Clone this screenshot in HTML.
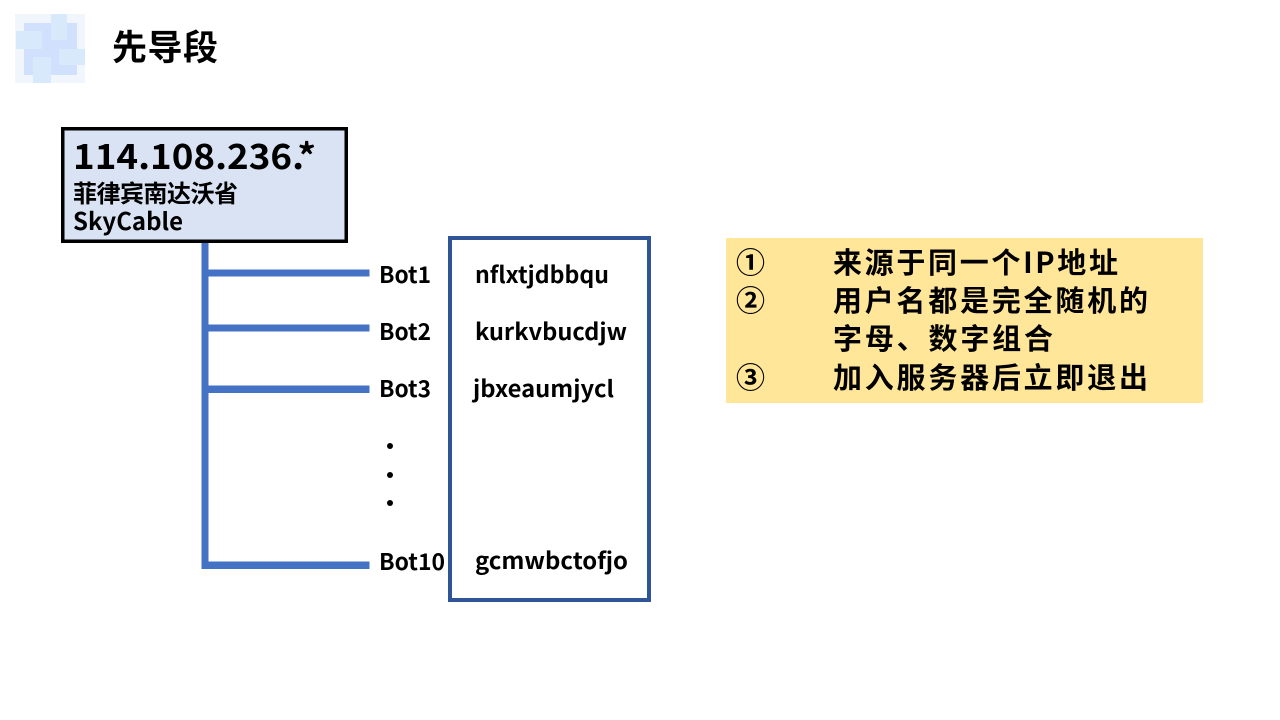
<!DOCTYPE html>
<html>
<head>
<meta charset="utf-8">
<style>
  html,body{margin:0;padding:0;background:#fff;}
  body{width:1280px;height:720px;overflow:hidden;}
  svg{display:block;}
  text{font-family:"Noto Sans CJK SC","Liberation Sans",sans-serif;fill:#000;}
</style>
</head>
<body>
<svg width="1280" height="720" viewBox="0 0 1280 720" xmlns="http://www.w3.org/2000/svg">
  <rect x="0" y="0" width="1280" height="720" fill="#ffffff"/>

  <!-- logo -->
  <rect x="15" y="14" width="70" height="69" fill="#f1f6fd"/>
  <rect x="24" y="23" width="53" height="52" fill="#d0e0fd"/>
  <rect x="51" y="14" width="16" height="26" fill="#d9e9fc"/>
  <rect x="16" y="31" width="26" height="18" fill="#d9e9fc"/>
  <rect x="59" y="49" width="26" height="16" fill="#d9e9fc"/>
  <rect x="33" y="57" width="18" height="26" fill="#d9e9fc"/>

  <!-- title -->
  <text x="112" y="60" font-size="35" font-weight="700" textLength="106">先导段</text>

  <!-- IP box -->
  <rect x="62.75" y="128.75" width="283.5" height="112.5" fill="#dae3f3" stroke="#000" stroke-width="3.5"/>
  <text x="73" y="169" font-size="35" font-weight="700" textLength="243" lengthAdjust="spacingAndGlyphs">114.108.236.*</text>
  <text x="73" y="202" font-size="24" font-weight="700" textLength="165">菲律宾南达沃省</text>
  <text x="73" y="230" font-size="24" font-weight="700" textLength="110" lengthAdjust="spacingAndGlyphs">SkyCable</text>

  <!-- tree lines -->
  <g fill="#4472c4">
    <rect x="201.5" y="243" width="7" height="326"/>
    <rect x="201.5" y="269.5" width="168" height="7"/>
    <rect x="201.5" y="324.5" width="168" height="7"/>
    <rect x="201.5" y="385.5" width="168" height="7.5"/>
    <rect x="201.5" y="561.5" width="168" height="7.5"/>
  </g>

  <!-- bot labels -->
  <g font-size="23" font-weight="700">
    <text x="379" y="283" textLength="52" lengthAdjust="spacingAndGlyphs">Bot1</text>
    <text x="379" y="340" textLength="52" lengthAdjust="spacingAndGlyphs">Bot2</text>
    <text x="379" y="397" textLength="52" lengthAdjust="spacingAndGlyphs">Bot3</text>
    <text x="379" y="570" textLength="66" lengthAdjust="spacingAndGlyphs">Bot10</text>
  </g>
  <g fill="#000">
    <circle cx="390" cy="446" r="3"/>
    <circle cx="390" cy="475" r="3"/>
    <circle cx="390" cy="503" r="3"/>
  </g>

  <!-- username box -->
  <rect x="450" y="238" width="199" height="362" fill="none" stroke="#2f5597" stroke-width="4"/>
  <g font-size="23" font-weight="700">
    <text x="475" y="283" textLength="134" lengthAdjust="spacingAndGlyphs">nflxtjdbbqu</text>
    <text x="475" y="340" textLength="152" lengthAdjust="spacingAndGlyphs">kurkvbucdjw</text>
    <text x="473" y="397" textLength="141" lengthAdjust="spacingAndGlyphs">jbxeaumjycl</text>
    <text x="475" y="569" textLength="153" lengthAdjust="spacingAndGlyphs">gcmwbctofjo</text>
  </g>

  <!-- yellow note -->
  <rect x="726" y="238" width="477" height="165" fill="#ffe699"/>
  <g font-size="29" font-weight="700">
    <text x="736" y="273">①</text>
    <text x="736" y="311">②</text>
    <text x="736" y="388">③</text>
    <text x="833" y="273" textLength="285">来源于同一个IP地址</text>
    <text x="833" y="311" textLength="315">用户名都是完全随机的</text>
    <text x="833" y="349" textLength="220">字母、数字组合</text>
    <text x="833" y="388" textLength="315">加入服务器后立即退出</text>
  </g>
</svg>
</body>
</html>
